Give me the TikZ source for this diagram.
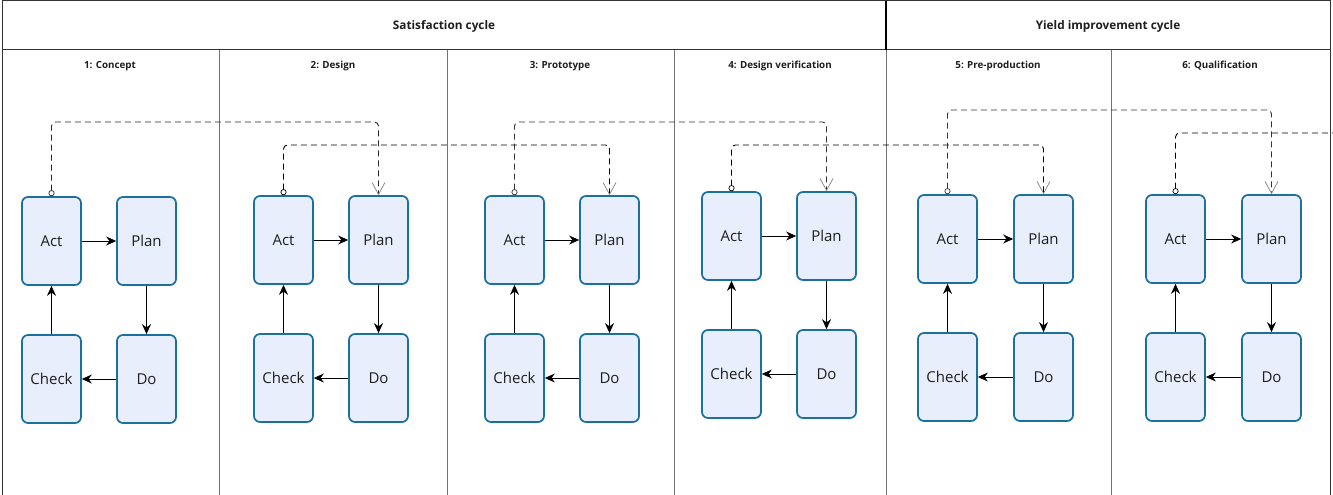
\documentclass[tikz,border=0pt]{standalone}
\usepackage{fontspec}
\setmainfont{Open Sans}
\usetikzlibrary{arrows.meta}
\definecolor{boxfill}{RGB}{233,238,252}
\definecolor{boxline}{RGB}{28,112,160}
\definecolor{txt}{RGB}{30,30,30}
\tikzset{
  pdca/.style={draw=boxline, fill=boxfill, line width=1.7pt, rounded corners=6pt,
    minimum width=59pt, minimum height=88pt, inner sep=0pt, text=txt,
    font=\fontsize{15}{17}\selectfont},
  flow/.style={draw=black, line width=0.9pt, -{Stealth[length=10pt,width=9pt]}},
  dashcon/.style={line width=0.9pt, dash pattern=on 6pt off 4pt, rounded corners=4pt,
    {Circle[open,length=6pt,width=6pt,fill=white,line width=0.7pt]}-{Straight Barb[length=12pt,width=13pt,line width=0.7pt,color=black!50]}},
  dashopen/.style={line width=0.9pt, dash pattern=on 6pt off 4pt, rounded corners=4pt,
    {Circle[open,length=6pt,width=6pt,fill=white,line width=0.7pt]}-},
  coltitle/.style={font=\bfseries\fontsize{9.8}{11}\selectfont, text=txt},
  maintitle/.style={font=\bfseries\fontsize{11.8}{13}\selectfont, text=txt},
  frame/.style={draw=black!80, line width=1pt},
  colline/.style={draw=black!55, line width=1pt}
}
\begin{document}
\begin{tikzpicture}[x=1pt,y=-1pt]
\useasboundingbox (0,0) rectangle (1333,495);
% frame
\draw[frame] (2,495) -- (2,1) -- (1330,1) -- (1330,495);
\draw[frame] (2,50) -- (1330,50);
\draw[draw=black, line width=2pt] (886,1) -- (886,50);
\foreach \cx in {219,447,674,886,1111} \draw[colline] (\cx,50) -- (\cx,495);
% headers
\node[maintitle] (hsat) at (444,26) {Satisfaction cycle};
\node[maintitle] (hyield) at (1108,26) {Yield improvement cycle};
\node[coltitle] (c1) at (110,66) {1: Concept};
\node[coltitle] (c2) at (333,66) {2: Design};
\node[coltitle] (c3) at (560,66) {3: Prototype};
\node[coltitle] (c4) at (780,66) {4: Design verification};
\node[coltitle] (c5) at (998,66) {5: Pre-production};
\node[coltitle] (c6) at (1220,66) {6: Qualification};
% PDCA blocks
\foreach \i/\ax/\px/\yy in {1/22/117/197, 2/254/349/196, 3/485/580/196, 4/702/797/192, 5/918/1014/195, 6/1146/1242/195}{
  \node[pdca] (act\i) at (\ax+29.5,\yy+44) {Act};
  \node[pdca] (plan\i) at (\px+29.5,\yy+44) {Plan};
  \node[pdca] (check\i) at (\ax+29.5,\yy+182) {Check};
  \node[pdca] (do\i) at (\px+29.5,\yy+182) {Do};
  \draw[flow] (act\i) -- (plan\i);
  \draw[flow] (plan\i) -- (do\i);
  \draw[flow] (do\i) -- (check\i);
  \draw[flow] (check\i) -- (act\i);
}
% dashed connectors
\draw[dashcon, draw=black!85] (act1.north) -- (act1.north |- 0,122) -- (plan2.north |- 0,122) -- (plan2.north);
\draw[dashcon, draw=black] (act2.north) -- (act2.north |- 0,145) -- (plan3.north |- 0,145) -- (plan3.north);
\draw[dashcon, draw=black!80] (act3.north) -- (act3.north |- 0,122) -- (plan4.north |- 0,122) -- (plan4.north);
\draw[dashcon, draw=black] (act4.north) -- (act4.north |- 0,145) -- (plan5.north |- 0,145) -- (plan5.north);
\draw[dashcon, draw=black!80] (act5.north) -- (act5.north |- 0,110) -- (plan6.north |- 0,110) -- (plan6.north);
\coordinate (offright) at (1334,133);
\draw[dashopen, draw=black] (act6.north) -- (act6.north |- offright) -- (offright);
\end{tikzpicture}
\end{document}
